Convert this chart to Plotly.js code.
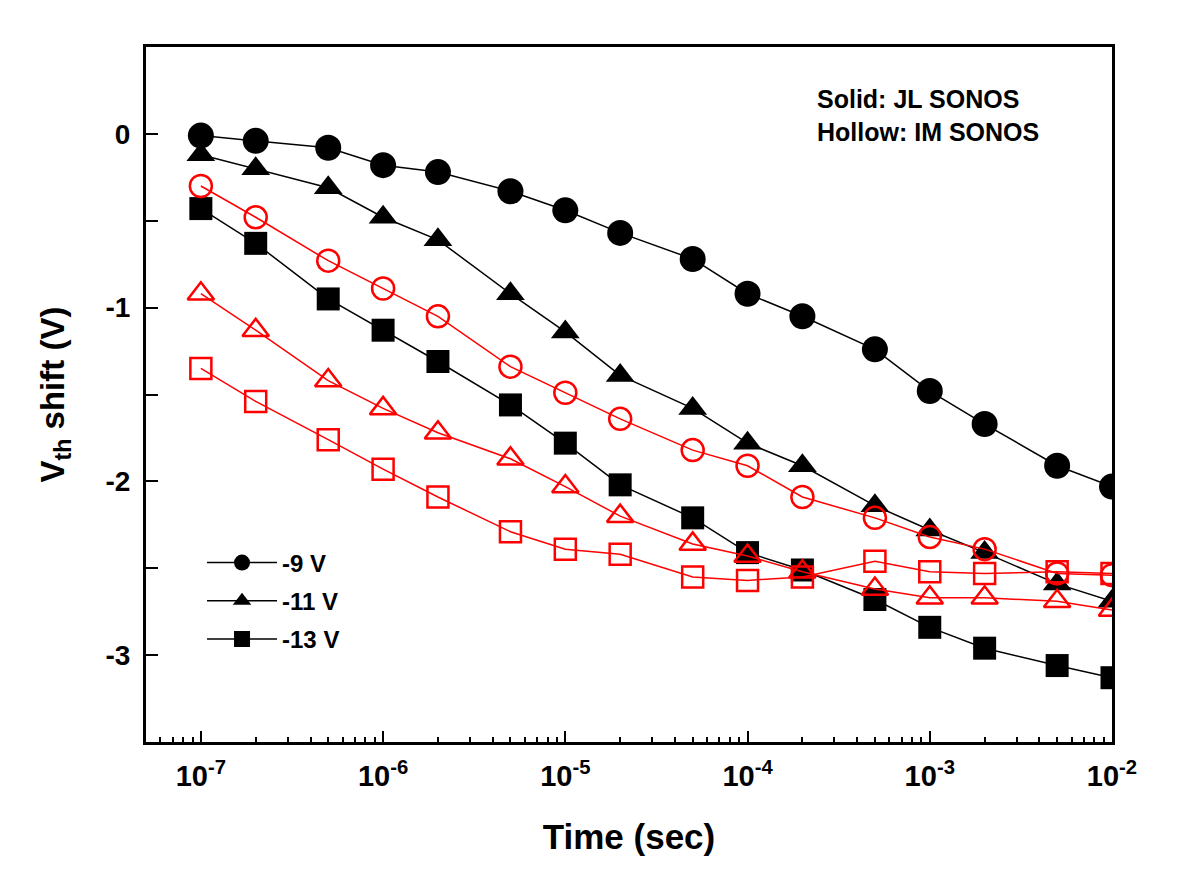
<!DOCTYPE html>
<html>
<head>
<meta charset="utf-8">
<script src="https://cdn.plot.ly/plotly-3.0.1.min.js"></script>
<style>html,body{margin:0;padding:0;background:#fff;}#chart{width:1200px;height:886px;}</style>
</head>
<body>
<div id="chart"></div>
<script>
// Time (sec)
const time = [1e-7,2e-7,5e-7,1e-6,2e-6,5e-6,1e-5,2e-5,5e-5,1e-4,2e-4,5e-4,1e-3,2e-3,5e-3,1e-2];
// Solid: JL SONOS
const jl9  = [-0.01,-0.04,-0.08,-0.18,-0.22,-0.33,-0.44,-0.57,-0.72,-0.92,-1.05,-1.24,-1.48,-1.67,-1.91,-2.03];
const jl11 = [-0.12,-0.20,-0.31,-0.48,-0.61,-0.92,-1.14,-1.39,-1.58,-1.78,-1.91,-2.14,-2.28,-2.41,-2.59,-2.69];
const jl13 = [-0.43,-0.63,-0.95,-1.13,-1.31,-1.56,-1.78,-2.02,-2.21,-2.41,-2.51,-2.68,-2.84,-2.96,-3.06,-3.13];
// Hollow: IM SONOS
const im9  = [-0.30,-0.48,-0.73,-0.89,-1.05,-1.34,-1.49,-1.64,-1.82,-1.91,-2.09,-2.21,-2.32,-2.39,-2.53,-2.54];
const im11 = [-0.92,-1.13,-1.42,-1.58,-1.72,-1.87,-2.03,-2.20,-2.36,-2.43,-2.52,-2.62,-2.67,-2.67,-2.69,-2.74];
const im13 = [-1.35,-1.54,-1.76,-1.93,-2.09,-2.29,-2.39,-2.42,-2.55,-2.57,-2.55,-2.46,-2.52,-2.53,-2.52,-2.53];

const legendNames = ['-9 V', '-11 V', '-13 V'];
const xTickVals = [1e-7,1e-6,1e-5,1e-4,1e-3,1e-2];
const xTickText = ['10<sup>-7</sup>','10<sup>-6</sup>','10<sup>-5</sup>','10<sup>-4</sup>','10<sup>-3</sup>','10<sup>-2</sup>'];
const yTickVals = [0, -1, -2, -3];
const yTickText = ['0', '-1', '-2', '-3'];
const yMinorVals = [0.5, 0, -0.5, -1, -1.5, -2, -2.5, -3, -3.5];

const xMinorVals = [];
for (let e = -8; e <= -3; e++) for (let m = 2; m <= 9; m++) xMinorVals.push(m * Math.pow(10, e));

const FONT = 'Liberation Sans, Arial, sans-serif';

function solid(y, name, symbol, size) {
  return {x: time, y: y, name: name, legendgroup: name, type: 'scatter', mode: 'lines+markers',
    line: {color: '#000', width: 1.5},
    marker: {symbol: symbol, size: size, color: '#000'}, showlegend: true};
}
function hollow(y, symbol, size) {
  return {x: time, y: y, type: 'scatter', mode: 'lines+markers',
    line: {color: '#ff0000', width: 1.5},
    marker: {symbol: symbol, size: size, color: '#ff0000', line: {width: 2.5, color: '#ff0000'}},
    showlegend: false};
}

const data = [
  solid(jl9, legendNames[0], 'circle', 26),
  solid(jl11, legendNames[1], 'triangle-up', 25),
  solid(jl13, legendNames[2], 'square', 23),
  hollow(im9, 'circle-open', 22),
  hollow(im11, 'triangle-up-open', 23),
  hollow(im13, 'square-open', 21)
];

const layout = {
  width: 1200, height: 886,
  margin: {l: 146, r: 88, t: 47, b: 144},
  paper_bgcolor: '#fff', plot_bgcolor: '#fff',
  font: {family: FONT, color: '#000'},
  showlegend: true,
  legend: {x: 0.058, y: 0.29, xanchor: 'left', yanchor: 'top',
    traceorder: 'grouped', tracegroupgap: 4,
    font: {family: FONT, size: 24, weight: 'bold', color: '#000'},
    bgcolor: 'rgba(0,0,0,0)', itemwidth: 70},
  xaxis: {
    type: 'log', range: [Math.log10(5e-8), -2],
    tickmode: 'array', tickvals: xTickVals, ticktext: xTickText,
    ticks: 'inside', ticklen: 11, tickwidth: 2, tickcolor: '#000',
    minor: {tickmode: 'array', tickvals: xMinorVals, ticks: 'inside', ticklen: 5, tickwidth: 2, tickcolor: '#000', showgrid: false},
    showline: true, linewidth: 3, linecolor: '#000', mirror: true,
    showgrid: false, zeroline: false,
    tickfont: {family: FONT, size: 29, weight: 'bold', color: '#000'},
    ticklabelstandoff: 6,
    title: {text: 'Time (sec)', font: {family: FONT, size: 35, weight: 'bold', color: '#000'}, standoff: 34}
  },
  yaxis: {
    range: [-3.5, 0.5], tickmode: 'array', tickvals: yTickVals, ticktext: yTickText,
    ticks: 'inside', ticklen: 12, tickwidth: 2, tickcolor: '#000',
    minor: {tickmode: 'array', tickvals: yMinorVals, ticks: 'inside', ticklen: 12, tickwidth: 2, tickcolor: '#000', showgrid: false},
    showline: true, linewidth: 3, linecolor: '#000', mirror: true,
    showgrid: false, zeroline: false,
    tickfont: {family: FONT, size: 28, weight: 'bold', color: '#000'},
    ticklabelstandoff: 7,
    title: {text: 'V<sub>th</sub> shift (V)', font: {family: FONT, size: 33, weight: 'bold', color: '#000'}, standoff: 31}
  },
  annotations: [
    {xref: 'paper', yref: 'paper', x: 0.693, y: 0.925, xanchor: 'left', yanchor: 'middle', showarrow: false,
     text: 'Solid: JL SONOS', font: {family: FONT, size: 25, weight: 'bold', color: '#000'}},
    {xref: 'paper', yref: 'paper', x: 0.693, y: 0.877, xanchor: 'left', yanchor: 'middle', showarrow: false,
     text: 'Hollow: IM SONOS', font: {family: FONT, size: 25, weight: 'bold', color: '#000'}}
  ]
};

Plotly.newPlot('chart', data, layout, {displayModeBar: false, staticPlot: true});
</script>
</body>
</html>
